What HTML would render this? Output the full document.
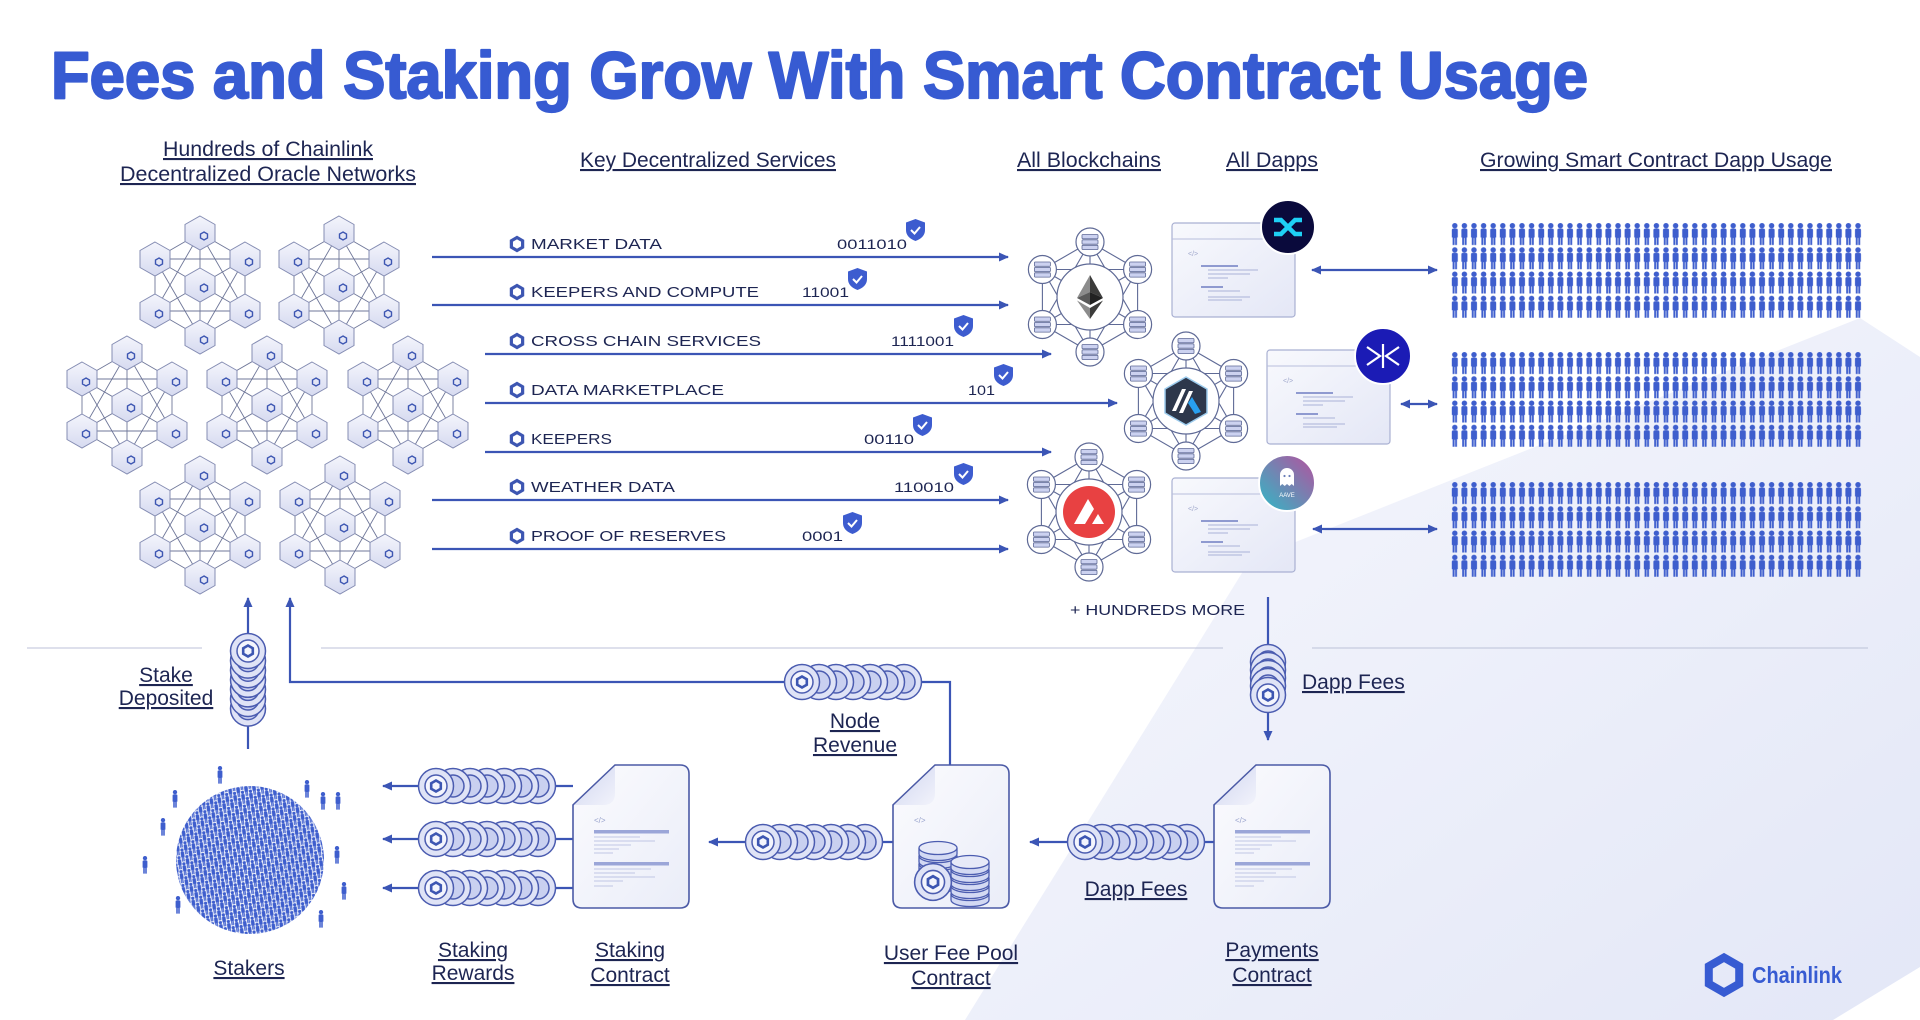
<!DOCTYPE html>
<html><head><meta charset="utf-8">
<style>
html,body{margin:0;padding:0;background:#fff;}
svg{display:block}
.h{font-size:21px;fill:#1d2552;text-decoration:underline;}
.b{font-size:21px;fill:#1d2552;text-decoration:underline;text-anchor:middle;}
.s{font-size:15px;fill:#1d2552;}
.n{font-size:14px;fill:#1d2552;}
</style></head>
<body>
<svg width="1920" height="1020" viewBox="0 0 1920 1020" xmlns="http://www.w3.org/2000/svg" xmlns:xlink="http://www.w3.org/1999/xlink" font-family="'Liberation Sans', sans-serif">
<defs>
<linearGradient id="bgg" x1="0" y1="0" x2="1" y2="1"><stop offset="0" stop-color="#f7f8fd"/><stop offset="1" stop-color="#e3e7f7"/></linearGradient>
<linearGradient id="hg" x1="0" y1="0" x2="0" y2="1"><stop offset="0" stop-color="#f4f5fc"/><stop offset="1" stop-color="#d6daf0"/></linearGradient>
<linearGradient id="wg" x1="0" y1="0" x2="1" y2="1"><stop offset="0" stop-color="#f8f9fd"/><stop offset="1" stop-color="#e4e7f6"/></linearGradient>
<linearGradient id="docg" x1="0" y1="0" x2="1" y2="1"><stop offset="0" stop-color="#fbfbfe"/><stop offset="1" stop-color="#eaedf8"/></linearGradient>
<linearGradient id="fold" x1="0" y1="0" x2="1" y2="1"><stop offset="0" stop-color="#cfd5f0"/><stop offset="1" stop-color="#f2f3fb"/></linearGradient>
<linearGradient id="aave" x1="0" y1="1" x2="1" y2="0"><stop offset="0" stop-color="#2ebac6"/><stop offset="1" stop-color="#b6509e"/></linearGradient>
<marker id="ah" viewBox="0 0 10 9" refX="9" refY="4.5" markerWidth="10" markerHeight="9" markerUnits="userSpaceOnUse" orient="auto-start-reverse"><path d="M0,0 L10,4.5 L0,9 Z" fill="#3b55b5"/></marker>

<g id="hn"><polygon points="0,-17 15,-8.5 15,8.5 0,17 -15,8.5 -15,-8.5" fill="url(#hg)" stroke="#858db3" stroke-width="1"/><polygon points="4,-1 7.5,1 7.5,5 4,7 0.5,5 0.5,1" fill="none" stroke="#3d56b2" stroke-width="1.4"/></g>
<g id="cl">
<path d="M0,-52L45,-26M0,-52L45,26M0,-52L0,52M0,-52L-45,26M0,-52L-45,-26M45,-26L45,26M45,-26L0,52M45,-26L-45,26M45,-26L-45,-26M45,26L0,52M45,26L-45,26M45,26L-45,-26M0,52L-45,26M0,52L-45,-26M-45,26L-45,-26" stroke="#6f7799" stroke-width="0.9" fill="none"/>
<use href="#hn" x="0" y="-52"/><use href="#hn" x="45" y="-26"/><use href="#hn" x="45" y="26"/><use href="#hn" x="0" y="52"/><use href="#hn" x="-45" y="26"/><use href="#hn" x="-45" y="-26"/><use href="#hn" x="0" y="0"/>
</g>

<g id="sv"><circle r="14" fill="#fff" stroke="#5f6a96" stroke-width="1.2"/><rect x="-8" y="-7.5" width="16" height="4.3" rx="0.8" fill="#ccd2f0" stroke="#5f6a96" stroke-width="0.8"/><rect x="-8" y="-2.1" width="16" height="4.3" rx="0.8" fill="#ccd2f0" stroke="#5f6a96" stroke-width="0.8"/><rect x="-8" y="3.3" width="16" height="4.3" rx="0.8" fill="#ccd2f0" stroke="#5f6a96" stroke-width="0.8"/></g>
<g id="bn">
<path d="M0,-55 L47.6,-27.5 L47.6,27.5 L0,55 L-47.6,27.5 L-47.6,-27.5 Z M0,-55 L0,55 M47.6,-27.5 L-47.6,27.5 M47.6,27.5 L-47.6,-27.5 M0,-55 L47.6,27.5 L-47.6,27.5 Z M47.6,-27.5 L0,55 L-47.6,-27.5 Z" stroke="#5f6a96" stroke-width="1.1" fill="none"/>
<circle r="33" fill="#fff" stroke="#5f6a96" stroke-width="1.2"/>
<use href="#sv" x="0" y="-55"/><use href="#sv" x="47.6" y="-27.5"/><use href="#sv" x="47.6" y="27.5"/><use href="#sv" x="0" y="55"/><use href="#sv" x="-47.6" y="27.5"/><use href="#sv" x="-47.6" y="-27.5"/>
</g>

<g id="win">
<rect x="0" y="0" width="123" height="94" rx="3" fill="url(#wg)" stroke="#a9b0d2" stroke-width="1.2"/>
<line x1="0" y1="16" x2="123" y2="16" stroke="#b8bedc" stroke-width="1"/>
<text x="16" y="33" font-size="7" fill="#a0a8cc">&lt;/&gt;</text>
<rect x="29" y="42" width="37" height="2" fill="#8f9ad0"/>
<path d="M36,47H86M36,51H78M36,55H56M36,68H68M36,74H78M36,77H70" stroke="#aab2d8" stroke-width="1"/>
<rect x="29" y="63" width="22" height="2" fill="#8f9ad0"/>
</g>

<g id="cn"><circle r="17.5" fill="#dfe3f6" stroke="#4b5cb0" stroke-width="1.5"/><circle r="11" fill="#c9d0f0" stroke="#4b5cb0" stroke-width="1.5"/></g>
<g id="cf"><circle r="17.5" fill="#dfe3f6" stroke="#4b5cb0" stroke-width="1.5"/><circle r="11" fill="#f4f5fd" stroke="#4b5cb0" stroke-width="1.5"/><polygon points="0,-5.5 4.8,-2.75 4.8,2.75 0,5.5 -4.8,2.75 -4.8,-2.75" fill="none" stroke="#3d56b2" stroke-width="2.6"/></g>
<g id="dk"><path d="M-19,0 v6 a19,6.5 0 0 0 38,0 v-6" fill="#d3d9f3" stroke="#4b5cb0" stroke-width="1.3"/><ellipse rx="19" ry="6.5" fill="#e6e9f8" stroke="#4b5cb0" stroke-width="1.3"/></g>

<g id="doc">
<path d="M42,0 H107 Q116,0 116,9 V134 Q116,143 107,143 H9 Q0,143 0,134 V40 Z" fill="url(#docg)" stroke="#4b5aa6" stroke-width="1.6"/>
<path d="M42,1 V28 Q42,40 30,40 H1 Z" fill="url(#fold)"/>
<text x="21" y="58" font-size="8" fill="#98a2cc">&lt;/&gt;</text>
</g>
<g id="dl">
<rect x="21" y="65" width="75" height="3.5" fill="#9ba6d8"/>
<path d="M21,72H67M21,76H82M21,80H58M21,84H46M21,88H40" stroke="#c0c6e4" stroke-width="1"/>
<rect x="21" y="97" width="75" height="3.5" fill="#9ba6d8"/>
<path d="M21,104H78M21,108H62M21,112H82M21,116H50M21,121H40" stroke="#c0c6e4" stroke-width="1"/>
</g>

<g id="li"><polygon points="0,-6.5 5.63,-3.25 5.63,3.25 0,6.5 -5.63,3.25 -5.63,-3.25" fill="none" stroke="#3d56b2" stroke-width="3.2"/></g>
<g id="sh"><path d="M0,3.5 L9.5,0 L19,3.5 V11 Q19,18.5 9.5,22 Q0,18.5 0,11 Z" fill="#3d5ccf"/><path d="M5,11 L8.5,14.5 L14,8" stroke="#fff" stroke-width="2" fill="none"/></g>

<g id="fig"><circle cx="0" cy="2.7" r="2.7"/><path d="M-3,7 Q-3,5.5 -1.4,5.5 H1.4 Q3,5.5 3,7 V14.5 H2.2 V22 H0.3 V15 H-0.3 V22 H-2.2 V14.5 H-3 Z"/></g>
<pattern id="pp" width="9.6" height="24.25" patternUnits="userSpaceOnUse"><use href="#fig" x="4.8" y="1" fill="#3e5ecd"/></pattern>
<pattern id="pc" width="8" height="14" patternUnits="userSpaceOnUse">
<use href="#fig" transform="translate(2,0.3) scale(0.6)" fill="#3e5ecd"/>
<use href="#fig" transform="translate(6,7) scale(0.6)" fill="#3e5ecd"/>
<use href="#fig" transform="translate(6,-7) scale(0.6)" fill="#3e5ecd"/>
</pattern>
</defs>

<!-- background -->
<rect width="1920" height="1020" fill="#fff"/>
<polygon points="965,1020 1250,560 1860,318 1920,357 1920,967 1833,1020" fill="url(#bgg)"/>

<!-- title -->
<text x="51" y="98" font-size="66" font-weight="bold" fill="#375BD2" stroke="#375BD2" stroke-width="2.2" stroke-linejoin="round" textLength="1537" lengthAdjust="spacingAndGlyphs">Fees and Staking Grow With Smart Contract Usage</text>

<!-- headers -->
<text class="h" x="163" y="156" textLength="210" lengthAdjust="spacingAndGlyphs">Hundreds of Chainlink</text>
<text class="h" x="120" y="181" textLength="296" lengthAdjust="spacingAndGlyphs">Decentralized Oracle Networks</text>
<text class="h" x="580" y="167" textLength="256" lengthAdjust="spacingAndGlyphs">Key Decentralized Services</text>
<text class="h" x="1017" y="167" textLength="144" lengthAdjust="spacingAndGlyphs">All Blockchains</text>
<text class="h" x="1226" y="167" textLength="92" lengthAdjust="spacingAndGlyphs">All Dapps</text>
<text class="h" x="1480" y="167" textLength="352" lengthAdjust="spacingAndGlyphs">Growing Smart Contract Dapp Usage</text>

<!-- separators -->
<path d="M27,648H202M321,648H1223M1312,648H1868" stroke="#bcc2d8" stroke-width="1"/>

<!-- service arrows -->
<g stroke="#3b55b5" stroke-width="2.2" fill="none" marker-end="url(#ah)">
<line x1="432" y1="257" x2="1008" y2="257"/>
<line x1="432" y1="305" x2="1008" y2="305"/>
<line x1="485" y1="354" x2="1051" y2="354"/>
<line x1="485" y1="403" x2="1117" y2="403"/>
<line x1="485" y1="452" x2="1051" y2="452"/>
<line x1="432" y1="500" x2="1008" y2="500"/>
<line x1="432" y1="549" x2="1008" y2="549"/>
</g>

<!-- service labels -->
<use href="#li" x="517" y="244"/><text class="s" x="531" y="249" textLength="131" lengthAdjust="spacingAndGlyphs">MARKET DATA</text>
<use href="#li" x="517" y="292"/><text class="s" x="531" y="297" textLength="228" lengthAdjust="spacingAndGlyphs">KEEPERS AND COMPUTE</text>
<use href="#li" x="517" y="341"/><text class="s" x="531" y="346" textLength="230" lengthAdjust="spacingAndGlyphs">CROSS CHAIN SERVICES</text>
<use href="#li" x="517" y="390"/><text class="s" x="531" y="395" textLength="193" lengthAdjust="spacingAndGlyphs">DATA MARKETPLACE</text>
<use href="#li" x="517" y="439"/><text class="s" x="531" y="444" textLength="81" lengthAdjust="spacingAndGlyphs">KEEPERS</text>
<use href="#li" x="517" y="487"/><text class="s" x="531" y="492" textLength="144" lengthAdjust="spacingAndGlyphs">WEATHER DATA</text>
<use href="#li" x="517" y="536"/><text class="s" x="531" y="541" textLength="195" lengthAdjust="spacingAndGlyphs">PROOF OF RESERVES</text>

<text class="n" x="837" y="249" textLength="70" lengthAdjust="spacingAndGlyphs">0011010</text><use href="#sh" x="906" y="219"/>
<text class="n" x="802" y="297" textLength="47" lengthAdjust="spacingAndGlyphs">11001</text><use href="#sh" x="848" y="268"/>
<text class="n" x="891" y="346" textLength="63" lengthAdjust="spacingAndGlyphs">1111001</text><use href="#sh" x="954" y="315"/>
<text class="n" x="968" y="395" textLength="27" lengthAdjust="spacingAndGlyphs">101</text><use href="#sh" x="994" y="364"/>
<text class="n" x="864" y="444" textLength="50" lengthAdjust="spacingAndGlyphs">00110</text><use href="#sh" x="913" y="414"/>
<text class="n" x="894" y="492" textLength="60" lengthAdjust="spacingAndGlyphs">110010</text><use href="#sh" x="954" y="463"/>
<text class="n" x="802" y="541" textLength="41" lengthAdjust="spacingAndGlyphs">0001</text><use href="#sh" x="843" y="512"/>

<!-- oracle clusters -->
<use href="#cl" x="200" y="285"/>
<use href="#cl" x="339" y="285"/>
<use href="#cl" x="127" y="405"/>
<use href="#cl" x="267" y="405"/>
<use href="#cl" x="408" y="405"/>
<use href="#cl" x="200" y="525"/>
<use href="#cl" x="340" y="525"/>

<!-- blockchain networks -->
<use href="#bn" x="1090" y="297"/>
<use href="#bn" x="1186" y="401"/>
<use href="#bn" x="1089" y="512"/>
<!-- ETH -->
<g transform="translate(1090,297)">
<polygon points="0,-22 -13,1 0,-5" fill="#8c8c8c"/><polygon points="0,-22 13,1 0,-5" fill="#3c3c3b"/>
<polygon points="0,-5 -13,1 0,8" fill="#5a5a5a"/><polygon points="0,-5 13,1 0,8" fill="#222"/>
<polygon points="0,11 -13,3.5 0,22" fill="#8c8c8c"/><polygon points="0,11 13,3.5 0,22" fill="#3c3c3b"/>
</g>
<!-- Arbitrum -->
<g transform="translate(1186,401)">
<polygon points="0,-24 21,-12 21,12 0,24 -21,12 -21,-12" fill="#2d374b" stroke="#9dcced" stroke-width="1.5" stroke-linejoin="round"/>
<polygon points="-14,10 -4,-12 0,-12 -10,10" fill="#fff"/>
<polygon points="-7,12 3,-10 7,-10 -3,12" fill="#fff"/>
<polygon points="6,-4 15,11 9,13 2,2" fill="#28a0f0"/>
</g>
<!-- Avalanche -->
<g transform="translate(1089,512)">
<circle r="26" fill="#e84142"/>
<polygon points="-15,12 -1,-13 5,-3 -4,12" fill="#fff"/>
<polygon points="3,12 9,2 15,12" fill="#fff"/>
</g>

<!-- dapp windows -->
<use href="#win" x="1172" y="223"/>
<use href="#win" x="1267" y="350"/>
<use href="#win" x="1172" y="478"/>
<!-- logos -->
<g transform="translate(1288,227)">
<circle r="27" fill="#0a0a3c" stroke="#fff" stroke-width="2"/>
<path d="M-14,-7 H-7 L7,7 H14 M-14,7 H-7 L7,-7 H14" stroke="#1ed0f5" stroke-width="4.5" fill="none"/>
</g>
<g transform="translate(1383,356)">
<circle r="28" fill="#1b1bb5" stroke="#fff" stroke-width="2"/>
<path d="M-16,-9 L-3,0 L-16,9 M16,-9 L3,0 L16,9 M0,-12 V12" stroke="#fff" stroke-width="2.2" fill="none"/>
</g>
<g transform="translate(1287,483)">
<circle r="28" fill="url(#aave)" stroke="#fff" stroke-width="2"/>
<path d="M-7,3 V-8 a7,7 0 0 1 14,0 V3 l-2.3,-2 -2.3,2 -2.4,-2 -2.3,2 -2.4,-2 -2.3,2 Z" fill="#fff"/>
<circle cx="-2.5" cy="-7" r="1.1" fill="#6a7fb8"/><circle cx="2.5" cy="-7" r="1.1" fill="#6a7fb8"/>
<text x="0" y="14" font-size="6" fill="#fff" text-anchor="middle">AAVE</text>
</g>

<!-- double arrows -->
<g stroke="#3b55b5" stroke-width="2.2" fill="none" marker-start="url(#ah)" marker-end="url(#ah)">
<line x1="1312" y1="270" x2="1437" y2="270"/>
<line x1="1401" y1="404" x2="1437" y2="404"/>
<line x1="1313" y1="529" x2="1437" y2="529"/>
</g>

<!-- people grids -->
<g transform="translate(1450,222)"><rect width="413" height="97" fill="url(#pp)"/></g>
<g transform="translate(1450,351)"><rect width="413" height="97" fill="url(#pp)"/></g>
<g transform="translate(1450,481)"><rect width="413" height="97" fill="url(#pp)"/></g>

<text class="s" x="1070" y="615" textLength="175" lengthAdjust="spacingAndGlyphs">+ HUNDREDS MORE</text>

<!-- flow lines -->
<g stroke="#3b55b5" stroke-width="2.2" fill="none" marker-end="url(#ah)">
<line x1="248" y1="749" x2="248" y2="598"/>
<polyline points="950,765 950,682 290,682 290,598"/>
<line x1="893" y1="842" x2="709" y2="842"/>
<line x1="1214" y1="842" x2="1030" y2="842"/>
<line x1="1268" y1="597" x2="1268" y2="740"/>
<line x1="573" y1="786" x2="383" y2="786"/>
<line x1="573" y1="839" x2="383" y2="839"/>
<line x1="573" y1="888" x2="383" y2="888"/>
</g>

<!-- coin stacks -->
<g transform="translate(248,0)">
<use href="#cn" y="708.6"/><use href="#cn" y="699"/><use href="#cn" y="689.4"/><use href="#cn" y="679.8"/><use href="#cn" y="670.2"/><use href="#cn" y="660.6"/><use href="#cf" y="651"/>
</g>
<g transform="translate(1268,0)">
<use href="#cn" y="662"/><use href="#cn" y="670"/><use href="#cn" y="678"/><use href="#cn" y="686"/><use href="#cf" y="695"/>
</g>
<g transform="translate(0,682)">
<use href="#cn" x="904"/><use href="#cn" x="887"/><use href="#cn" x="870"/><use href="#cn" x="853"/><use href="#cn" x="836"/><use href="#cn" x="819"/><use href="#cf" x="802"/>
</g>
<g transform="translate(0,842)">
<use href="#cn" x="865"/><use href="#cn" x="848"/><use href="#cn" x="831"/><use href="#cn" x="814"/><use href="#cn" x="797"/><use href="#cn" x="780"/><use href="#cf" x="763"/>
</g>
<g transform="translate(0,842)">
<use href="#cn" x="1187"/><use href="#cn" x="1170"/><use href="#cn" x="1153"/><use href="#cn" x="1136"/><use href="#cn" x="1119"/><use href="#cn" x="1102"/><use href="#cf" x="1085"/>
</g>
<g transform="translate(0,786)">
<use href="#cn" x="538"/><use href="#cn" x="521"/><use href="#cn" x="504"/><use href="#cn" x="487"/><use href="#cn" x="470"/><use href="#cn" x="453"/><use href="#cf" x="436"/>
</g>
<g transform="translate(0,839)">
<use href="#cn" x="538"/><use href="#cn" x="521"/><use href="#cn" x="504"/><use href="#cn" x="487"/><use href="#cn" x="470"/><use href="#cn" x="453"/><use href="#cf" x="436"/>
</g>
<g transform="translate(0,888)">
<use href="#cn" x="538"/><use href="#cn" x="521"/><use href="#cn" x="504"/><use href="#cn" x="487"/><use href="#cn" x="470"/><use href="#cn" x="453"/><use href="#cf" x="436"/>
</g>

<!-- documents -->
<use href="#doc" x="573" y="765"/><use href="#dl" x="573" y="765"/>
<use href="#doc" x="893" y="765"/>
<use href="#doc" x="1214" y="765"/><use href="#dl" x="1214" y="765"/>
<!-- fee pool coins -->
<use href="#dk" x="938" y="880"/><use href="#dk" x="938" y="872"/><use href="#dk" x="938" y="864"/><use href="#dk" x="938" y="856"/><use href="#dk" x="938" y="848"/>
<use href="#dk" x="970" y="894"/><use href="#dk" x="970" y="886"/><use href="#dk" x="970" y="878"/><use href="#dk" x="970" y="870"/><use href="#dk" x="970" y="862"/>
<use href="#cf" transform="translate(933,882) scale(1.05)"/>

<!-- stakers crowd -->
<g transform="translate(250,860) rotate(-8)"><ellipse rx="74" ry="74" fill="url(#pc)"/></g>
<g fill="#3e5ecd">
<use href="#fig" transform="translate(220,766) scale(0.8)"/>
<use href="#fig" transform="translate(175,790) scale(0.8)"/>
<use href="#fig" transform="translate(163,818) scale(0.8)"/>
<use href="#fig" transform="translate(145,856) scale(0.8)"/>
<use href="#fig" transform="translate(178,896) scale(0.8)"/>
<use href="#fig" transform="translate(307,780) scale(0.8)"/>
<use href="#fig" transform="translate(323,792) scale(0.8)"/>
<use href="#fig" transform="translate(338,792) scale(0.8)"/>
<use href="#fig" transform="translate(337,846) scale(0.8)"/>
<use href="#fig" transform="translate(344,882) scale(0.8)"/>
<use href="#fig" transform="translate(321,910) scale(0.8)"/>
</g>

<!-- bottom labels -->
<text class="b" x="166" y="682">Stake</text>
<text class="b" x="166" y="705">Deposited</text>
<text class="b" x="855" y="728">Node</text>
<text class="b" x="855" y="752">Revenue</text>
<text class="h" x="1302" y="689">Dapp Fees</text>
<text class="b" x="249" y="975">Stakers</text>
<text class="b" x="473" y="957">Staking</text>
<text class="b" x="473" y="980">Rewards</text>
<text class="b" x="630" y="957">Staking</text>
<text class="b" x="630" y="982">Contract</text>
<text class="b" x="951" y="960">User Fee Pool</text>
<text class="b" x="951" y="985">Contract</text>
<text class="b" x="1136" y="896">Dapp Fees</text>
<text class="b" x="1272" y="957">Payments</text>
<text class="b" x="1272" y="982">Contract</text>

<!-- chainlink logo -->
<polygon points="1724,957.5 1739.2,966.25 1739.2,983.75 1724,992.5 1708.8,983.75 1708.8,966.25" fill="none" stroke="#375BD2" stroke-width="8"/>
<text x="1752" y="983" font-size="23" font-weight="bold" fill="#375BD2" textLength="90" lengthAdjust="spacingAndGlyphs">Chainlink</text>
</svg>
</body></html>
